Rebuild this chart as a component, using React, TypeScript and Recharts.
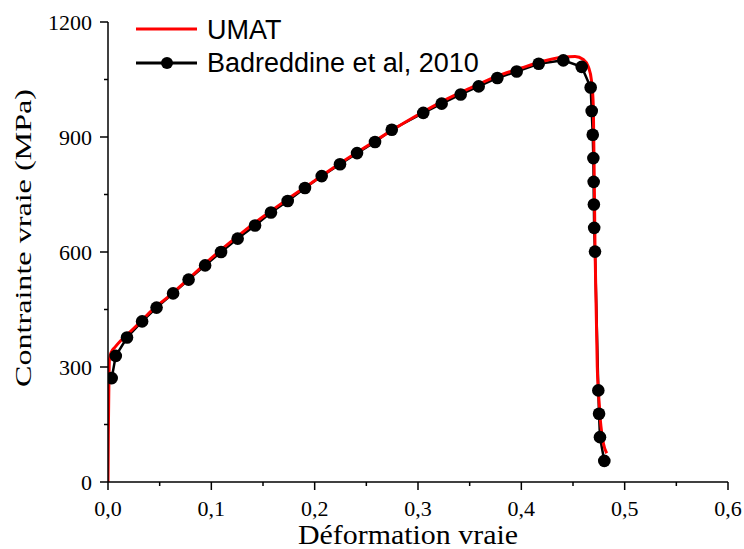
import { ComposedChart, Line, XAxis, YAxis, Label } from 'recharts'

// UMAT simulation curve
const umatX = [0, 0.0003, 0.0008, 0.0013, 0.003, 0.0068, 0.012, 0.0196, 0.03, 0.045, 0.06, 0.08, 0.1, 0.125, 0.15, 0.175, 0.2, 0.225, 0.25, 0.275, 0.3, 0.325, 0.35, 0.375, 0.4, 0.42, 0.44, 0.452, 0.46, 0.465, 0.468, 0.4697, 0.4713, 0.4728, 0.4735, 0.4745, 0.4755, 0.4765, 0.478, 0.4795, 0.4826]
const umatY = [0, 120, 240, 317, 338, 352, 368, 387, 414, 454, 487, 535, 584, 640, 692, 740, 786, 832, 875, 918, 958, 995, 1027, 1057, 1080, 1097, 1108, 1110, 1102, 1082, 1045, 977, 613, 400, 300, 240, 200, 160, 125, 100, 75]

// Badreddine et al, 2010 (reference points)
const refX = [0.0036, 0.0075, 0.0184, 0.033, 0.047, 0.063, 0.078, 0.094, 0.1094, 0.1255, 0.1423, 0.1577, 0.1739, 0.1906, 0.2068, 0.2245, 0.241, 0.2584, 0.2746, 0.3051, 0.3229, 0.3413, 0.3587, 0.3768, 0.3955, 0.4168, 0.4406, 0.4584, 0.4671, 0.4681, 0.4691, 0.4697, 0.47, 0.4702, 0.4705, 0.4713, 0.4745, 0.4752, 0.4761, 0.4803]
const refY = [271, 329, 377, 419, 455, 492, 528, 565, 600, 635, 669, 703, 733, 767, 798, 829, 858, 887, 919, 963, 987, 1011, 1032, 1054, 1071, 1091, 1100, 1083, 1029, 968, 906, 845, 783, 724, 663, 601, 239, 178, 117, 55]

const xTicks = [0, 0.05, 0.1, 0.15, 0.2, 0.25, 0.3, 0.35, 0.4, 0.45, 0.5, 0.55, 0.6]
const yTicks = [0, 150, 300, 450, 600, 750, 900, 1050, 1200]

const umatData = umatX.map((x, i) => ({ x, y: umatY[i] }))
const refData = refX.map((x, i) => ({ x, y: refY[i] }))

const serif = '"Liberation Serif", "Times New Roman", serif'
const sans = '"Liberation Sans", Arial, sans-serif'

function XTick(props: any) {
  const { x, y, payload } = props
  const major = Math.round(payload.value * 100) % 10 === 0
  return (
    <g>
      <line x1={x} x2={x} y1={y} y2={y + (major ? 8 : 4)} stroke="#000" strokeWidth={1.5} />
      {major && (
        <text x={x} y={y + 34} textAnchor="middle" fontFamily={serif} fontSize={22} fill="#000">
          {payload.value.toFixed(1).replace('.', ',')}
        </text>
      )}
    </g>
  )
}

function YTick(props: any) {
  const { x, y, payload } = props
  const major = payload.value % 300 === 0
  return (
    <g>
      <line x1={x} x2={x - (major ? 8 : 4)} y1={y} y2={y} stroke="#000" strokeWidth={1.5} />
      {major && (
        <text x={x - 16} y={y} dy="0.35em" textAnchor="end" fontFamily={serif} fontSize={22} fill="#000">
          {payload.value}
        </text>
      )}
    </g>
  )
}

function LegendBox() {
  return (
    <svg width={520} height={90} style={{ display: 'block' }}>
      <line x1={136} x2={197} y1={29} y2={29} stroke="#ff0000" strokeWidth={3} />
      <text x={207} y={39} fontFamily={sans} fontSize={27} fill="#000">UMAT</text>
      <line x1={136} x2={197} y1={63} y2={63} stroke="#000" strokeWidth={3} />
      <circle cx={167} cy={63} r={6} fill="#000" />
      <text x={207} y={72} fontFamily={sans} fontSize={27} fill="#000">Badreddine et al, 2010</text>
    </svg>
  )
}

export default function App() {
  return (
    <div style={{ position: 'absolute', left: 0, top: 0, width: 744, height: 549, background: '#fff' }}>
      <ComposedChart width={744} height={549} margin={{ top: 22, right: 16, bottom: 0, left: 0 }}>
        <XAxis
          type="number"
          dataKey="x"
          domain={[0, 0.6]}
          ticks={xTicks}
          allowDataOverflow
          height={67}
          stroke="#000"
          strokeWidth={1.5}
          tickLine={false}
          tickSize={0}
          tickMargin={0}
          tick={<XTick />}
          interval={0}
        >
          <Label
            content={() => (
              <text x={408} y={544} textAnchor="middle" fontFamily={serif} fontSize={27} fill="#000" textLength={220} lengthAdjust="spacingAndGlyphs">
                Déformation vraie
              </text>
            )}
          />
        </XAxis>
        <YAxis
          type="number"
          domain={[0, 1200]}
          ticks={yTicks}
          width={108}
          stroke="#000"
          strokeWidth={1.5}
          tickLine={false}
          tickSize={0}
          tickMargin={0}
          tick={<YTick />}
          interval={0}
        >
          <Label
            content={() => (
              <text x={31} y={238} transform="rotate(-90, 31, 238)" textAnchor="middle" fontFamily={serif} fontSize={24} fill="#000" textLength={298} lengthAdjust="spacingAndGlyphs">
                Contrainte vraie (MPa)
              </text>
            )}
          />
        </YAxis>
        <Line data={refData} dataKey="y" type="linear" stroke="#000" strokeWidth={2.5} dot={false} isAnimationActive={false} />
        <Line data={umatData} dataKey="y" type="monotoneX" stroke="#ff0000" strokeWidth={3} dot={false} isAnimationActive={false} />
        <Line data={refData} dataKey="y" type="linear" stroke="none" dot={{ r: 6.3, fill: '#000', stroke: 'none' }} isAnimationActive={false} />
      </ComposedChart>
      <div style={{ position: 'absolute', left: 0, top: 0, pointerEvents: 'none' }}>
        <LegendBox />
      </div>
    </div>
  )
}
